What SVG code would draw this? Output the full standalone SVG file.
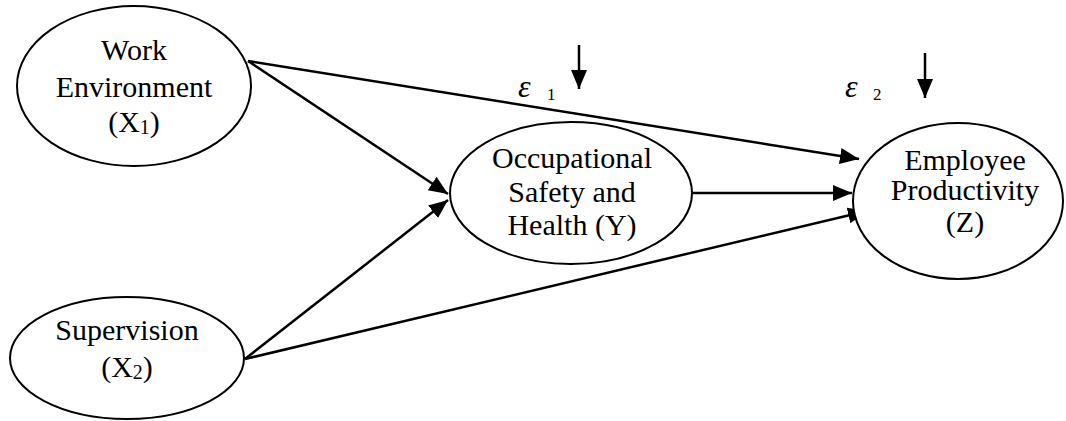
<svg xmlns="http://www.w3.org/2000/svg" width="1066" height="421" viewBox="0 0 1066 421">
<style>
.n{fill:#fff;stroke:#000;stroke-width:2}
.t{font-family:'Liberation Serif','Times New Roman','DejaVu Serif',serif;font-size:30px;fill:#000;text-anchor:middle}
.e{font-family:'Liberation Serif','Times New Roman','DejaVu Serif',serif;fill:#000}
.c{stroke:#000;stroke-width:2.5;fill:none;marker-end:url(#ah)}
</style>
<defs>
<marker id="ah" markerUnits="userSpaceOnUse" markerWidth="20" markerHeight="18" refX="19" refY="8" orient="auto">
<path d="M0,0 L19,8 L0,16 z" fill="#000"/>
</marker>
</defs>
<rect width="1066" height="421" fill="#fff"/>
<g id="connectors">
<line class="c" x1="248" y1="61" x2="859" y2="159"/>
<line class="c" x1="248" y1="61" x2="448" y2="194"/>
<line class="c" x1="245" y1="359" x2="448" y2="200"/>
<line class="c" x1="245" y1="359" x2="867" y2="211"/>
<line class="c" x1="693" y1="193" x2="852" y2="193"/>
<line class="c" x1="579" y1="45" x2="579" y2="89"/>
<line class="c" x1="925" y1="53" x2="925" y2="98"/>
</g>
<g id="node-x1">
<ellipse class="n" cx="134" cy="86" rx="117" ry="80"/>
<text class="t" x="134" y="60">Work</text>
<text class="t" x="134" y="97">Environment</text>
<text class="t" x="134" y="132">(X<tspan font-size="20" dy="2">1</tspan><tspan dy="-2">)</tspan></text>
</g>
<g id="node-x2">
<ellipse class="n" cx="127" cy="358" rx="117" ry="61"/>
<text class="t" x="127" y="340">Supervision</text>
<text class="t" x="127" y="377">(X<tspan font-size="20" dy="2">2</tspan><tspan dy="-2">)</tspan></text>
</g>
<g id="node-y">
<ellipse class="n" cx="571" cy="193" rx="121" ry="71"/>
<text class="t" x="572" y="168">Occupational</text>
<text class="t" x="572" y="202">Safety and</text>
<text class="t" x="572" y="235">Health (Y)</text>
</g>
<g id="node-z">
<ellipse class="n" cx="958" cy="201" rx="105" ry="78"/>
<text class="t" x="965" y="170">Employee</text>
<text class="t" x="965" y="200">Productivity</text>
<text class="t" x="965" y="232">(Z)</text>
</g>
<g id="labels">
<text class="e" x="518" y="97" font-size="32" font-style="italic">ε</text>
<text class="e" x="547" y="100" font-size="17">1</text>
<text class="e" x="845" y="97" font-size="32" font-style="italic">ε</text>
<text class="e" x="873" y="100" font-size="17">2</text>
</g>
</svg>
